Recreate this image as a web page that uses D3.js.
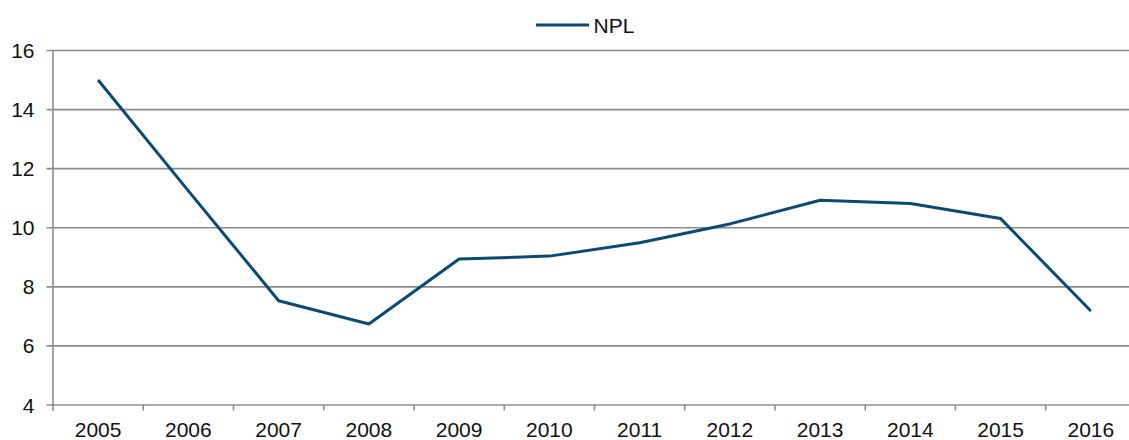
<!DOCTYPE html>
<html>
<head>
<meta charset="utf-8">
<script src="https://cdn.jsdelivr.net/npm/d3@7"></script>
<style>
  body { margin: 0; background: #fff; }
  svg { display: block; font-family: "Liberation Sans", Arial, sans-serif; }
</style>
</head>
<body>
<svg id="chart" width="1129" height="440"></svg>
<script>
const years = ["2005", "2006", "2007", "2008", "2009", "2010", "2011", "2012", "2013", "2014", "2015", "2016"];
const npl = [15.0, 11.25, 7.53, 6.74, 8.94, 9.04, 9.49, 10.13, 10.93, 10.82, 10.31, 7.18];
const yTicks = [4, 6, 8, 10, 12, 14, 16];
const seriesName = "NPL";

const svg = d3.select("#chart");
const plotLeft = 53, plotRight = 1136, plotTop = 50.5, plotBottom = 405;
const lineColor = "#0b4a73";
const gridColor = "#8c8c8c";
const fontSize = "21px";

// scales
const x = d3.scaleBand().domain(years).range([plotLeft, plotRight]);
const y = d3.scaleLinear().domain([4, 16]).range([plotBottom, plotTop]);

// gridlines
svg.append("g")
  .selectAll("line")
  .data(yTicks)
  .enter()
  .append("line")
  .attr("x1", plotLeft - 6.5)
  .attr("x2", plotRight)
  .attr("y1", d => y(d))
  .attr("y2", d => y(d))
  .attr("stroke", gridColor)
  .attr("stroke-width", 1.6);

// y axis line
svg.append("line")
  .attr("x1", plotLeft).attr("x2", plotLeft)
  .attr("y1", plotTop).attr("y2", plotBottom + 6)
  .attr("stroke", gridColor)
  .attr("stroke-width", 1.6);

// x ticks between categories
const xTickPos = years.map(d => x(d)).concat([plotRight]);
svg.append("g")
  .selectAll("line")
  .data(xTickPos.slice(1))
  .enter()
  .append("line")
  .attr("x1", d => d).attr("x2", d => d)
  .attr("y1", plotBottom).attr("y2", plotBottom + 5.5)
  .attr("stroke", gridColor)
  .attr("stroke-width", 1.6);

// y labels
svg.append("g")
  .selectAll("text")
  .data(yTicks)
  .enter()
  .append("text")
  .attr("x", 34.5)
  .attr("y", d => y(d) + 7.5)
  .attr("text-anchor", "end")
  .attr("font-size", fontSize)
  .attr("fill", "#111")
  .text(d => d);

// x labels
svg.append("g")
  .selectAll("text")
  .data(years)
  .enter()
  .append("text")
  .attr("x", d => x(d) + x.bandwidth() / 2)
  .attr("y", 437)
  .attr("text-anchor", "middle")
  .attr("font-size", fontSize)
  .attr("fill", "#111")
  .text(d => d);

// the line
const line = d3.line()
  .x((d, i) => x(years[i]) + x.bandwidth() / 2)
  .y(d => y(d));

svg.append("path")
  .datum(npl)
  .attr("d", line)
  .attr("fill", "none")
  .attr("stroke", lineColor)
  .attr("stroke-width", 3)
  .attr("stroke-linejoin", "round");

// legend
const legend = svg.append("g").attr("transform", "translate(536,25)");
legend.append("line")
  .attr("x1", 0).attr("x2", 53)
  .attr("y1", 0).attr("y2", 0)
  .attr("stroke", lineColor)
  .attr("stroke-width", 3);
legend.append("text")
  .attr("x", 57.5)
  .attr("y", 7.5)
  .attr("font-size", fontSize)
  .attr("fill", "#111")
  .text(seriesName);
</script>
</body>
</html>
